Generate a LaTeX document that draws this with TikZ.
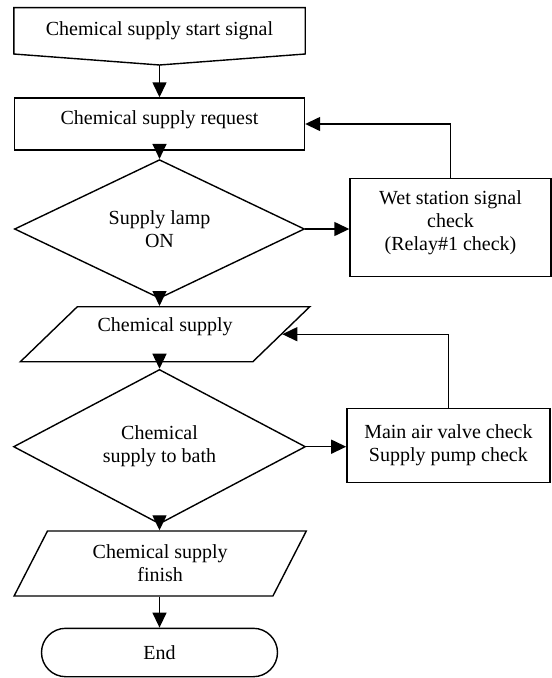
\documentclass[tikz,border=0pt]{standalone}
\usepackage{fontspec}
\setmainfont{Liberation Serif}
\usetikzlibrary{shapes.geometric,shapes.misc,arrows.meta}
\begin{document}
\begin{tikzpicture}[x=1pt,y=-1pt,
  line width=1.4pt,
  every node/.style={font=\fontsize{20}{23}\selectfont, inner sep=0pt},
  box/.style={draw, rectangle, align=center},
  dia/.style={draw, diamond, align=center},
  para/.style={draw, trapezium, trapezium stretches body, align=center},
  term/.style={draw, rounded rectangle, align=center},
  arr/.style={-{Triangle[length=15pt,width=14pt]}}]
\useasboundingbox (0,0) rectangle (552,678);

% start (off-page shape)
\node[minimum width=290, minimum height=45] (start) at (159.5,30.8) {Chemical supply start signal};
\coordinate (stip) at (159.5,65);
\draw (start.north west) -- (start.north east) -- (start.south east) -- (stip) -- (start.south west) -- cycle;

\node[box, minimum width=290, minimum height=52] (req) at (159.5,124) {\raisebox{4pt}[\height][\depth]{Chemical supply request}};
\node[dia, minimum width=290, minimum height=99] (d1) at (159.5,229) {Supply lamp\\ON};
\node[box, minimum width=201, minimum height=98.4] (wet) at (450.5,227.5) {};
\node[align=center] (wettxt) at (450.5,222.5) {Wet station signal\\check\\(Relay\#1 check)};
\node[para, trapezium left angle=44, trapezium right angle=136, minimum width=289.4, minimum height=55, text height=24.5pt, text depth=30.5pt] (p1) at (165.1,334.2) {Chemical supply};
\node[dia, minimum width=292, minimum height=105] (d2) at (159.5,446.7) {Chemical\\supply to bath};
\node[box, minimum width=203, minimum height=74] (main) at (448.4,445.3) {Main air valve check\\Supply pump check};
\node[para, trapezium left angle=48, trapezium right angle=132, minimum width=292.2, minimum height=65] (p2) at (160.2,563.5) {Chemical supply\\finish};
\node[term, minimum width=236, minimum height=48.4] (end) at (159.5,652.5) {End};

% connectors
\draw[arr] (stip) -- (stip |- req.north);
\draw[arr] (req.south) -- (d1.north);
\draw[arr] (d1.south) -- (d1.south |- p1.north);
\draw[arr] (d2.north |- p1.south) -- (d2.north);
\draw[arr] (d2.south) -- (d2.south |- p2.north);
\draw[arr] (end.north |- p2.south) -- (end.north);
\draw[arr] (d1.east) -- (d1.east -| wet.west);
\draw[arr] (d2.east) -- (d2.east -| main.west);
\draw[arr] (wet.north) |- (req.east);
\draw[arr] (main.north) |- (p1.east);
\end{tikzpicture}
\end{document}
